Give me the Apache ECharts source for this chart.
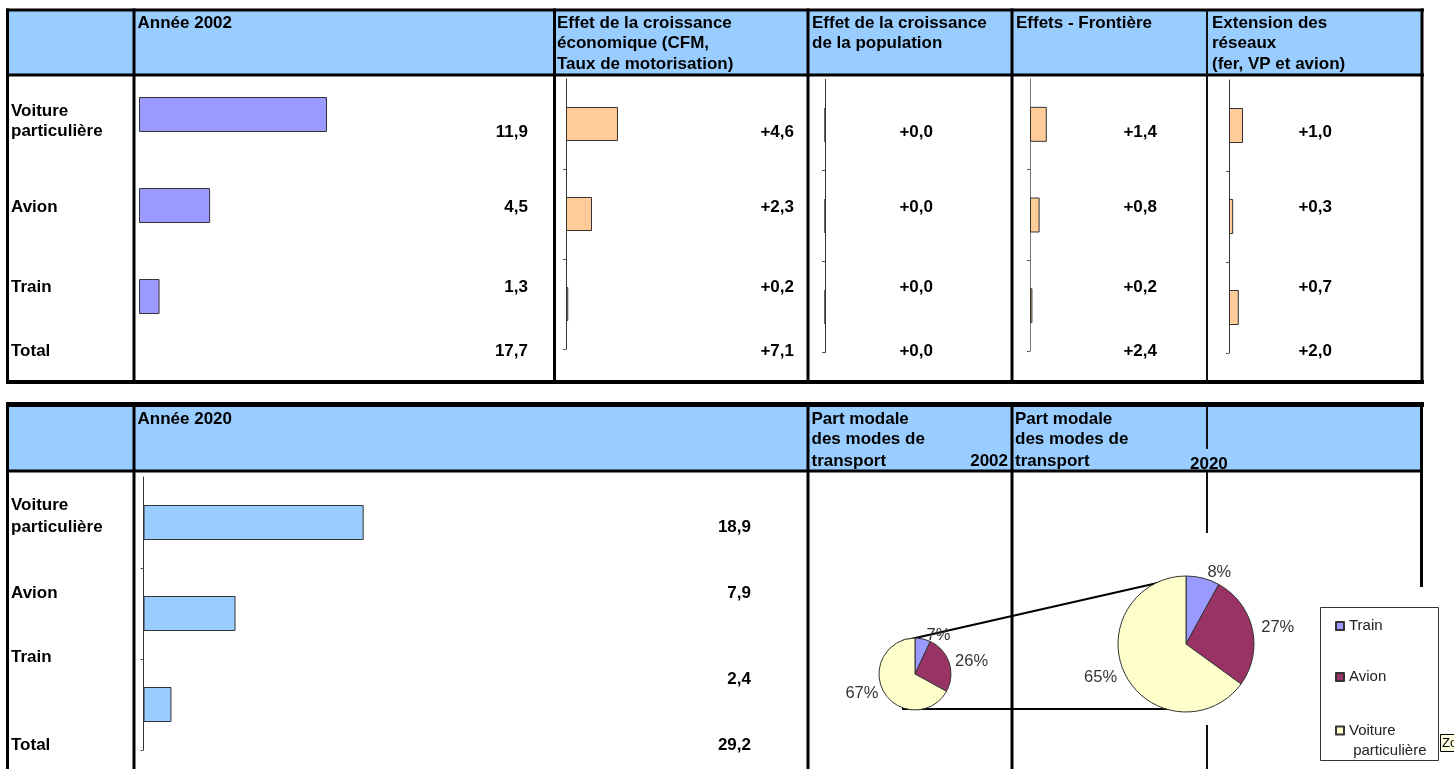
<!DOCTYPE html>
<html><head><meta charset="utf-8">
<script src="https://cdn.jsdelivr.net/npm/echarts@6/dist/echarts.min.js"></script>
<style>html,body{margin:0;padding:0;background:#fff;overflow:hidden}#c{width:1454px;height:769px}</style>
</head><body><div id="c"></div>
<script>
// ---------- DATA ----------
const categories = ['Voiture particulière', 'Avion', 'Train'];
const rowLabelLines = [['Voiture', 'particulière'], ['Avion'], ['Train']];
const totalLabel = 'Total';
const annee2002 = [11.9, 4.5, 1.3];
const croissanceEco = [4.6, 2.3, 0.2];
const croissancePop = [0.0, 0.0, 0.0];
const effetsFrontiere = [1.4, 0.8, 0.2];
const extensionReseaux = [1.0, 0.3, 0.7];
const totalsTop = [17.7, 7.1, 0.0, 2.4, 2.0];
const annee2020 = [18.9, 7.9, 2.4];
const total2020 = 29.2;
const pieNames = ['Train', 'Avion', 'Voiture particulière'];
const partModale2002 = [7, 26, 67];
const partModale2020 = [8, 27, 65];
const headersTop = [
  ['Année 2002'],
  ['Effet de la croissance', 'économique (CFM,', 'Taux de motorisation)'],
  ['Effet de la croissance', 'de la population'],
  ['Effets - Frontière'],
  ['Extension des', 'réseaux', '(fer, VP et avion)']
];
const headerBottom2020 = 'Année 2020';
const headerPart = ['Part modale', 'des modes de', 'transport'];
const yearLabels = ['2002', '2020'];

// ---------- LAYOUT / STYLE ----------
const FF = '"Liberation Sans", Arial, Helvetica, sans-serif';
const BOLD = 'bold 17px ' + FF;
const fmt = v => v.toFixed(1).replace('.', ',');
const fmtSigned = v => '+' + fmt(v);
const G = [];
function rect(x, y, w, h, fill, stroke, lw, z) {
  G.push({type: 'rect', z: z || 0, silent: true, shape: {x, y, width: w, height: h},
    style: {fill: fill || 'none', stroke: stroke || null, lineWidth: lw || 0}});
}
function seg(x1, y1, x2, y2, w, color) {
  G.push({type: 'line', z: 1, silent: true, shape: {x1, y1, x2, y2},
    style: {stroke: color || '#000', lineWidth: w}});
}
function txt(s, x, y, extra) {
  G.push({type: 'text', z: 5, silent: true, x, y,
    style: Object.assign({text: s, font: BOLD, fill: '#000', align: 'left', verticalAlign: 'middle'}, extra || {})});
}

// Top table
rect(8, 10, 1414, 65, '#99CCFF');
seg(6, 10, 1424, 10, 3); seg(6, 75, 1424, 75, 3); seg(6, 382, 1424, 382, 4);
[7.5, 134, 554.5, 808, 1012, 1422].forEach(x => seg(x, 8.5, x, 384, 3));
seg(1207, 10, 1207, 382, 2, '#111');

// Bottom table
rect(8, 406, 1413, 65, '#99CCFF');
seg(6, 404.5, 1424, 404.5, 5); seg(8, 471, 1423, 471, 3);
[7.5, 134, 808, 1012].forEach(x => seg(x, 402, x, 769, 3));
seg(1421.5, 402, 1421.5, 587, 3);
seg(1207, 406, 1207, 449, 2, '#111'); seg(1207, 472, 1207, 533, 2, '#111'); seg(1207, 725, 1207, 769, 2, '#111');

// Top header texts
const topHeaderX = [137.5, 557, 812, 1016, 1212];
const headerLineY = [23, 43.5, 64];
headersTop.forEach((lines, i) => lines.forEach((l, j) => txt(l, topHeaderX[i], headerLineY[j])));

// Top row labels & values
const topLabelY = [[111, 131], [207], [287]];
rowLabelLines.forEach((lines, i) => lines.forEach((l, j) => txt(l, 11, topLabelY[i][j])));
txt(totalLabel, 11, 351);
const topValueY = [132, 207, 287];
const totalTopY = 351;
const topCols = [
  {vals: annee2002, x: 528, f: fmt},
  {vals: croissanceEco, x: 794, f: fmtSigned},
  {vals: croissancePop, x: 933, f: fmtSigned},
  {vals: effetsFrontiere, x: 1157, f: fmtSigned},
  {vals: extensionReseaux, x: 1332, f: fmtSigned}
];
topCols.forEach((c, i) => {
  c.vals.forEach((v, j) => txt(c.f(v), c.x, topValueY[j], {align: 'right'}));
  txt(c.f(totalsTop[i]), c.x, totalTopY, {align: 'right'});
});

// Bottom header texts
const botHeaderY = [419, 439.5, 461];
txt(headerBottom2020, 137.5, botHeaderY[0]);
headerPart.forEach((l, j) => { txt(l, 811.5, botHeaderY[j]); txt(l, 1015, botHeaderY[j]); });
txt(yearLabels[0], 1008, 461, {align: 'right'});
txt(yearLabels[1], 1190, 464);

// Bottom row labels & values
const botLabelY = [[505, 527], [593], [657]];
rowLabelLines.forEach((lines, i) => lines.forEach((l, j) => txt(l, 11, botLabelY[i][j])));
txt(totalLabel, 11, 745);
const botValueY = [527, 593, 679];
annee2020.forEach((v, j) => txt(fmt(v), 751, botValueY[j], {align: 'right'}));
txt(fmt(total2020), 751, 745, {align: 'right'});

// Pies geometry
const pie1 = {cx: 915, cy: 674, r: 36};
const pie2 = {cx: 1186, cy: 644, r: 68};
// connector lines between the two pies
seg(pie1.cx - 13, pie1.cy - pie1.r + 3, pie2.cx - 11, pie2.cy - pie2.r + 3, 2);
seg(pie1.cx - 13, pie1.cy + pie1.r - 1, pie2.cx + 4, pie2.cy + pie2.r - 3, 2);

// Legend box
rect(1320.5, 607.5, 118, 153, '#fff', '#333', 1, 2);
// tooltip fragment at the edge
rect(1440.5, 734.5, 20, 17, '#FFFFE1', '#000', 1, 6);
G.push({type: 'text', z: 7, silent: true, x: 1442, y: 743,
  style: {text: 'Zo', font: '13px ' + FF, fill: '#000', verticalAlign: 'middle'}});

// ---------- CHART ----------
const barGrids = [
  {left: 139, top: 69, width: 316, height: 273, max: 20, data: annee2002, color: '#9999FF', axis: false, bw: 35},
  {left: 566, top: 79, width: 113, height: 270, max: 10, data: croissanceEco, color: '#FFCC99', axis: true, bw: 34},
  {left: 825, top: 79.5, width: 113, height: 273, max: 10, data: croissancePop, color: '#FFCC99', axis: true, bw: 34},
  {left: 1030, top: 79, width: 120, height: 272, max: 10, data: effetsFrontiere, color: '#FFCC99', axis: true, bw: 35, axisColor: '#777'},
  {left: 1229, top: 80, width: 140, height: 273, max: 10, data: extensionReseaux, color: '#FFCC99', axis: true, bw: 35},
  {left: 143.5, top: 477, width: 233, height: 273, max: 20, data: annee2020, color: '#99CCFF', axis: true, bw: 35}
];

const grid = [], xAxis = [], yAxis = [], series = [];
barGrids.forEach((g, i) => {
  grid.push({left: g.left, top: g.top, width: g.width, height: g.height, containLabel: false, outerBoundsMode: 'none'});
  xAxis.push({type: 'value', gridIndex: i, min: 0, max: g.max, show: false});
  yAxis.push({type: 'category', gridIndex: i, data: categories, inverse: true,
    axisLabel: {show: false}, splitLine: {show: false},
    axisLine: {show: g.axis, lineStyle: {color: g.axisColor || '#333', width: 1}},
    axisTick: {show: g.axis, length: 3, interval: idx => idx > 0, lineStyle: {color: '#555'}}});
  series.push({type: 'bar', xAxisIndex: i, yAxisIndex: i, data: g.data, barWidth: g.bw, silent: true,
    itemStyle: {color: g.color, borderColor: '#333', borderWidth: 1}});
});

const pieColors = ['#9999FF', '#993366', '#FFFFCC'];
function pieSeries(p, shares, len) {
  return {type: 'pie', center: [p.cx, p.cy], radius: p.r, startAngle: 90, clockwise: true,
    avoidLabelOverlap: false, silent: true,
    data: shares.map((v, i) => ({name: pieNames[i], value: v, itemStyle: {color: pieColors[i]}})),
    itemStyle: {borderColor: '#333', borderWidth: 1},
    label: {show: true, position: 'outside', formatter: '{c}%', fontFamily: FF, fontSize: 16.5, color: '#333', distanceToLabelLine: 3},
    labelLine: {show: false, length: len, length2: 0},
    emphasis: {disabled: true}};
}
series.push(pieSeries(pie1, partModale2002, 3));
series.push(pieSeries(pie2, partModale2020, 6));

const legendText = {fontFamily: FF, fontSize: 15, color: '#222', lineHeight: 19};
const chart = echarts.init(document.getElementById('c'), null, {renderer: 'canvas'});
chart.setOption({
  animation: false,
  backgroundColor: '#fff',
  grid, xAxis, yAxis, series,
  legend: [
    {data: [pieNames[0], pieNames[1]], orient: 'vertical', left: 1335, top: 616.5, icon: 'rect',
      itemWidth: 8, itemHeight: 8, itemGap: 32, selectedMode: false, textStyle: legendText, padding: 0},
    {data: [pieNames[2]], orient: 'vertical', left: 1335, top: 700.5, icon: 'rect',
      itemWidth: 8, itemHeight: 8, selectedMode: false, padding: 0,
      formatter: n => '\n' + n.replace(' ', '\n '),
      textStyle: Object.assign({}, legendText, {lineHeight: 20})}
  ],
  graphic: {elements: G}
});
</script></body></html>
